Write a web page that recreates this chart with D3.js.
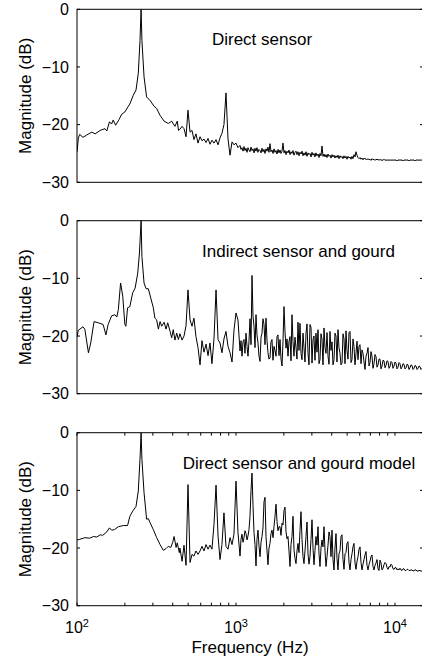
<!DOCTYPE html>
<html>
<head>
<meta charset="utf-8">
<script src="https://cdn.jsdelivr.net/npm/d3@7"></script>
<style>
  html, body { margin: 0; padding: 0; background: #fff; }
  svg { display: block; font-family: "Liberation Sans", Arial, Helvetica, sans-serif; }
</style>
</head>
<body>
<svg id="chart" width="422" height="661"></svg>
<script>
// frequency bins (Hz) shared by the three spectra above ~440 Hz
const midFreq = [
  444, 458, 471, 485, 499, 514, 529, 544, 560, 577,
  594, 611, 629, 648, 667, 686, 706, 727, 749, 771,
  793, 816, 840, 865, 891, 917, 944, 971, 1000, 1029
];
const fineFreq = [
  1060, 1075, 1091, 1107, 1123, 1139, 1156, 1173, 1190, 1207,
  1225, 1243, 1261, 1279, 1298, 1317, 1336, 1355, 1375, 1395,
  1416, 1437, 1457, 1478, 1500, 1522, 1544, 1567, 1589, 1612,
  1636, 1660, 1684, 1709, 1734, 1759, 1785, 1811, 1837, 1864,
  1891, 1919, 1947, 1975, 2004, 2033, 2063, 2093, 2123, 2154,
  2186, 2218, 2250, 2283, 2316, 2350, 2384, 2419, 2454, 2490,
  2526, 2563, 2601, 2639, 2677, 2716, 2756, 2796, 2837, 2878,
  2920, 2963, 3006, 3050, 3094, 3139, 3185, 3231, 3279, 3327,
  3375, 3424, 3474, 3525, 3577, 3629, 3682, 3736, 3790, 3845,
  3901, 3958, 4016, 4075, 4134, 4194, 4255, 4317, 4380, 4444,
  4509, 4575, 4642, 4710, 4778, 4848, 4918, 4990, 5063, 5137,
  5212, 5288, 5365, 5443, 5523, 5604, 5685, 5768, 5852, 5937,
  6024, 6112, 6201, 6291, 6383, 6476, 6571, 6667, 6764, 6863,
  6963, 7065, 7167, 7272, 7378, 7486, 7595, 7706, 7818, 7932,
  8048, 8165, 8284, 8405, 8528, 8652, 8778, 8906, 9036, 9168,
  9302, 9438, 9575, 9715, 9857, 10000, 10146, 10294, 10444, 10596,
  10751, 10908, 11067, 11228, 11393, 11559, 11727, 11898, 12072, 12248,
  12427, 12608, 12792, 12979, 13168, 13360, 13555, 13753, 13953, 14157,
  14363, 14573, 14785
];

// Direct sensor (dB)
const directLow = [
  [100, -24.8], [102, -22.3], [104, -21.7], [109, -22.2], [115, -21.8], [124, -21.3],
  [130, -21.6], [140, -21.0], [150, -20.7], [154, -21.1], [160, -19.5], [165, -19.9],
  [169, -19.2], [175, -20.1], [184, -19.1], [191, -18.2], [200, -17.8], [215, -16.4],
  [226, -14.9], [235, -14.0], [243, -11.1], [249, -5.4], [253, 0], [256, -5.4],
  [264, -11.7], [274, -15.2], [288, -15.8], [305, -16.8], [317, -17.2], [333, -18.4],
  [353, -19.4], [375, -19.8], [394, -19.4], [413, -20.3], [427, -19.4], [435, -21.0]
];
const directMid = [
  -20.8, -20.3, -20.7, -22.1, -17.5, -21.3, -21.0, -22.6, -21.6, -23.2,
  -22.1, -22.8, -22.5, -23.1, -22.4, -23.4, -22.7, -23.2, -22.6, -23.5,
  -22.3, -21.5, -20.0, -14.5, -22.5, -25.3, -23.0, -23.5, -23.2, -24.0
];
const directFine = [
  -23.6, -24.3, -24.0, -24.6, -23.8, -24.5, -24.1, -24.8, -24.0, -24.4,
  -24.7, -23.9, -24.5, -24.2, -24.9, -24.1, -24.6, -24.0, -24.8, -24.3,
  -24.5, -24.9, -24.1, -24.7, -24.3, -25.0, -24.2, -24.6, -23.9, -24.8,
  -23.3, -24.7, -24.4, -25.0, -24.2, -24.8, -24.5, -25.1, -24.3, -24.9,
  -24.4, -25.0, -24.6, -23.2, -24.9, -24.5, -25.2, -24.6, -24.9, -24.4,
  -25.2, -24.7, -25.0, -24.5, -25.3, -24.8, -24.6, -25.2, -24.7, -25.4,
  -24.8, -25.1, -24.6, -25.4, -24.9, -25.3, -24.7, -25.5, -24.9, -25.2,
  -25.0, -25.6, -24.8, -25.3, -25.0, -25.6, -24.9, -25.4, -25.1, -25.7,
  -25.0, -25.4, -23.7, -25.5, -25.1, -25.6, -25.2, -25.7, -25.1, -25.5,
  -25.3, -25.8, -25.2, -25.6, -25.3, -25.8, -25.4, -25.7, -25.3, -25.9,
  -25.4, -25.7, -25.5, -25.9, -25.4, -25.8, -25.5, -26.0, -25.5, -25.8,
  -25.6, -26.0, -25.5, -25.9, -25.2, -25.6, -24.7, -25.3, -25.7, -25.9,
  -25.7, -26.0, -25.8, -26.1, -25.8, -26.0, -25.9, -26.1, -25.9, -26.1,
  -26.0, -26.2, -25.9, -26.1, -26.0, -26.2, -26.0, -26.1, -26.0, -26.2,
  -26.0, -26.2, -26.1, -26.2, -26.0, -26.2, -26.1, -26.2, -26.1, -26.2,
  -26.1, -26.2, -26.1, -26.2, -26.1, -26.2, -26.1, -26.3, -26.1, -26.2,
  -26.1, -26.2, -26.1, -26.3, -26.1, -26.2, -26.1, -26.2, -26.1, -26.3,
  -26.1, -26.2, -26.1, -26.2, -26.1, -26.3, -26.1, -26.2, -26.1, -26.2,
  -26.1, -26.2, -26.1
];

// Indirect sensor and gourd (dB)
const gourdLow = [
  [100, -20.1], [102, -19.0], [109, -18.4], [112, -18.8], [118, -22.9], [122, -21.2],
  [128, -17.5], [136, -17.7], [146, -18.0], [152, -19.8], [157, -18.0], [165, -16.5],
  [173, -16.3], [178, -16.7], [182, -15.4], [188, -10.8], [194, -13.1], [200, -18.0],
  [203, -18.3], [208, -15.1], [215, -14.9], [224, -12.5], [232, -11.7], [241, -9.1],
  [247, -5.6], [253, 0], [256, -6.2], [264, -10.8], [272, -11.8], [281, -11.8],
  [291, -13.4], [302, -15.1], [309, -16.9], [317, -17.2], [325, -18.8], [333, -17.5],
  [341, -18.3], [353, -17.6], [363, -18.8], [372, -17.7], [385, -19.2], [394, -20.3],
  [403, -18.9], [413, -20.7], [424, -19.5], [434, -20.6]
];
const gourdMid = [
  -19.6, -20.7, -20.0, -18.2, -12.0, -17.2, -18.3, -16.9, -20.1, -22.0,
  -25.0, -20.8, -22.8, -21.4, -23.4, -21.2, -24.8, -20.5, -12.0, -20.6,
  -21.2, -22.9, -20.5, -19.2, -21.8, -22.9, -24.5, -19.0, -16.0, -17.2
];
const gourdFine = [
  -22.6, -20.8, -23.5, -21.0, -20.6, -23.0, -19.5, -21.8, -23.5, -20.9,
  -17.0, -21.5, -9.5, -16.5, -18.3, -22.0, -16.3, -19.8, -21.2, -23.5,
  -24.4, -20.2, -19.5, -17.0, -18.0, -21.5, -16.9, -20.8, -22.9, -24.0,
  -23.8, -21.0, -20.6, -24.2, -21.8, -22.5, -23.5, -20.1, -19.8, -23.4,
  -20.6, -24.0, -25.2, -21.0, -14.9, -19.2, -22.1, -20.5, -23.5, -21.0,
  -20.1, -24.3, -16.3, -21.0, -23.5, -20.2, -22.0, -24.0, -17.6, -22.5,
  -17.8, -23.0, -24.1, -19.5, -22.0, -24.5, -19.5, -17.9, -23.0, -25.0,
  -18.0, -18.5, -24.7, -20.6, -20.0, -24.2, -19.5, -22.8, -18.9, -24.8,
  -24.1, -19.6, -20.5, -25.0, -18.6, -22.0, -23.0, -19.4, -23.5, -24.9,
  -19.2, -22.5, -21.0, -25.0, -24.1, -19.5, -20.0, -24.5, -18.9, -22.0,
  -23.0, -25.0, -24.7, -19.6, -20.5, -24.8, -19.1, -22.5, -24.0, -19.4,
  -19.2, -24.6, -24.1, -20.5, -21.8, -25.0, -23.0, -20.9, -24.1, -21.8,
  -21.5, -24.8, -22.4, -23.0, -24.5, -25.8, -23.5, -23.0, -22.0, -25.2,
  -24.6, -22.7, -23.5, -25.6, -24.8, -23.2, -23.6, -25.4, -25.0, -24.0,
  -24.0, -25.7, -25.2, -24.2, -24.3, -25.5, -25.1, -24.3, -24.4, -25.6,
  -25.3, -24.4, -24.6, -25.6, -25.2, -24.5, -24.7, -25.7, -25.4, -24.6,
  -24.8, -25.7, -25.4, -24.8, -24.9, -25.7, -25.5, -24.9, -25.0, -25.8,
  -25.5, -25.0, -25.1, -25.8, -25.6, -25.1, -25.2, -25.8, -25.6, -25.2,
  -25.3, -25.8, -25.6
];

// Direct sensor and gourd model (dB)
const modelLow = [
  [100, -18.6], [104, -18.5], [112, -18.2], [120, -18.3], [127, -18.0], [133, -18.1],
  [140, -17.7], [145, -17.8], [154, -17.2], [160, -16.5], [165, -16.9], [172, -16.8],
  [182, -16.3], [196, -16.1], [208, -16.1], [215, -14.5], [224, -13.6], [235, -12.8],
  [243, -10.1], [249, -4.6], [253, 0], [256, -4.6], [264, -10.4], [274, -15.0],
  [281, -14.9], [288, -15.6], [302, -16.8], [317, -18.2], [333, -19.4], [349, -20.4],
  [363, -20.1], [375, -19.7], [389, -19.9], [400, -19.0], [408, -18.0], [420, -19.9],
  [427, -19.1], [440, -20.8]
];
const modelMid = [
  -20.0, -22.3, -19.5, -23.0, -9.0, -22.5, -21.1, -21.4, -20.5, -21.1,
  -20.5, -19.7, -20.5, -19.4, -20.2, -19.5, -20.2, -15.9, -9.1, -17.9,
  -22.0, -19.4, -13.9, -19.7, -20.2, -18.2, -19.4, -17.6, -8.4, -17.3
];
const modelFine = [
  -21.4, -18.5, -17.6, -19.0, -18.2, -17.0, -17.5, -18.6, -17.9, -16.8,
  -14.5, -10.0, -7.0, -12.5, -17.3, -19.4, -23.1, -18.5, -16.9, -19.6,
  -21.5, -19.0, -18.0, -16.5, -12.0, -11.2, -18.0, -20.5, -22.9, -20.1,
  -19.2, -17.5, -16.9, -18.2, -16.3, -14.5, -12.4, -15.4, -17.0, -16.3,
  -16.3, -17.8, -15.7, -16.0, -13.5, -12.9, -17.2, -18.4, -18.0, -20.5,
  -23.2, -19.4, -18.0, -14.5, -20.3, -21.8, -22.7, -20.5, -19.2, -20.8,
  -17.0, -13.7, -18.5, -21.5, -22.7, -20.5, -18.0, -15.5, -21.0, -22.8,
  -21.5, -18.5, -15.1, -20.0, -22.9, -20.4, -18.0, -19.5, -16.3, -21.0,
  -23.2, -20.0, -18.6, -19.8, -16.3, -20.5, -23.2, -21.5, -19.5, -17.2,
  -18.0, -21.5, -16.9, -22.0, -23.8, -20.0, -17.5, -21.8, -23.8, -21.0,
  -20.5, -18.0, -17.7, -22.0, -23.7, -21.0, -20.8, -19.2, -18.9, -22.5,
  -23.8, -22.0, -21.0, -19.8, -19.2, -22.6, -23.7, -22.3, -21.5, -20.2,
  -19.8, -22.5, -23.8, -22.8, -22.0, -21.2, -20.6, -23.0, -23.8, -22.9,
  -22.3, -21.5, -21.2, -23.2, -23.8, -23.0, -22.6, -22.0, -23.6, -23.9,
  -22.1, -22.6, -23.8, -23.5, -22.9, -22.5, -22.7, -23.4, -23.7, -23.2,
  -23.3, -22.8, -23.0, -23.6, -23.7, -23.4, -23.4, -23.8, -23.6, -23.8,
  -23.5, -23.8, -23.9, -23.6, -23.6, -23.9, -23.9, -23.7, -23.7, -23.9,
  -23.9, -23.8, -23.8, -24.0, -23.9, -23.8, -23.8, -24.0, -24.0, -23.9,
  -23.9, -24.0, -24.0
];

const titles = ['Direct sensor', 'Indirect sensor and gourd', 'Direct sensor and gourd model'];
const yTicks = [0, -10, -20, -30];
const xMajor = [100, 1000, 10000];
const xMinor = [200, 300, 400, 500, 600, 700, 800, 900,
                2000, 3000, 4000, 5000, 6000, 7000, 8000, 9000];

const O = {
    left: 77,
    right: 423,
    tops: [9.3, 220.7, 432.7],
    height: 173,
    tickLen: 3,
    fontTick: 16,
    fontLabel: 17,
    titleX: [262, 298.5, 299],
    titleDy: 36
};

const svg = d3.select('#chart');
const x = d3.scaleLog().domain([100, 15000]).range([O.left, O.right]);
const minus = v => (v < 0 ? '\u2212' + Math.abs(v) : String(v));

const panels = [
    { low: directLow, mid: directMid, fine: directFine },
    { low: gourdLow, mid: gourdMid, fine: gourdFine },
    { low: modelLow, mid: modelMid, fine: modelFine }
];

panels.forEach((p, i) => {
    const top = O.tops[i];
    const y = d3.scaleLinear().domain([-30, 0]).range([top + O.height, top]);
    const g = svg.append('g');
    const series = p.low
        .concat(midFreq.map((f, k) => [f, p.mid[k]]))
        .concat(fineFreq.map((f, k) => [f, p.fine[k]]));

    const clipId = `clip-${i}`;
    svg.append('clipPath').attr('id', clipId)
        .append('rect')
        .attr('x', O.left).attr('y', top)
        .attr('width', O.right - O.left).attr('height', O.height);

    // spectrum
    g.append('path')
        .datum(series)
        .attr('clip-path', `url(#${clipId})`)
        .attr('fill', 'none')
        .attr('stroke', '#000')
        .attr('stroke-width', 1)
        .attr('stroke-linejoin', 'round')
        .attr('d', d3.line().x(d => x(d[0])).y(d => y(d[1])));

    // frame
    g.append('rect')
        .attr('x', O.left).attr('y', top)
        .attr('width', O.right - O.left).attr('height', O.height)
        .attr('fill', 'none').attr('stroke', '#000').attr('stroke-width', 1);

    // y ticks, inward on both sides
    yTicks.forEach(v => {
        const yy = y(v);
        g.append('line').attr('x1', O.left).attr('x2', O.left + O.tickLen)
            .attr('y1', yy).attr('y2', yy).attr('stroke', '#000');
        g.append('line').attr('x1', O.right - O.tickLen).attr('x2', O.right)
            .attr('y1', yy).attr('y2', yy).attr('stroke', '#000');
        g.append('text')
            .attr('x', O.left - 8).attr('y', yy)
            .attr('dy', '0.36em')
            .attr('text-anchor', 'end')
            .attr('font-size', O.fontTick)
            .text(minus(v));
    });

    g.append('text')
        .attr('transform', `translate(31, ${top + O.height / 2}) rotate(-90)`)
        .attr('text-anchor', 'middle')
        .attr('font-size', O.fontLabel)
        .text('Magnitude (dB)');

    g.append('text')
        .attr('x', O.titleX[i]).attr('y', top + O.titleDy)
        .attr('text-anchor', 'middle')
        .attr('font-size', O.fontLabel)
        .text(titles[i]);

    // only the bottom panel carries frequency ticks
    if (i === panels.length - 1) {
        const bottom = top + O.height;
        xMajor.concat(xMinor).forEach(f => {
            const xx = x(f);
            g.append('line').attr('x1', xx).attr('x2', xx)
                .attr('y1', bottom).attr('y2', bottom - O.tickLen).attr('stroke', '#000');
            g.append('line').attr('x1', xx).attr('x2', xx)
                .attr('y1', top).attr('y2', top + O.tickLen).attr('stroke', '#000');
        });
        xMajor.forEach(f => {
            const t = g.append('text')
                .attr('x', x(f)).attr('y', bottom + 27)
                .attr('text-anchor', 'middle')
                .attr('font-size', O.fontTick);
            t.append('tspan').text('10');
            t.append('tspan').attr('dy', '-0.55em').attr('font-size', 11)
                .text(String(Math.round(Math.log10(f))));
        });
        g.append('text')
            .attr('x', (O.left + O.right) / 2).attr('y', bottom + 47)
            .attr('text-anchor', 'middle')
            .attr('font-size', O.fontLabel)
            .text('Frequency (Hz)');
    }
});
</script>
</body>
</html>
